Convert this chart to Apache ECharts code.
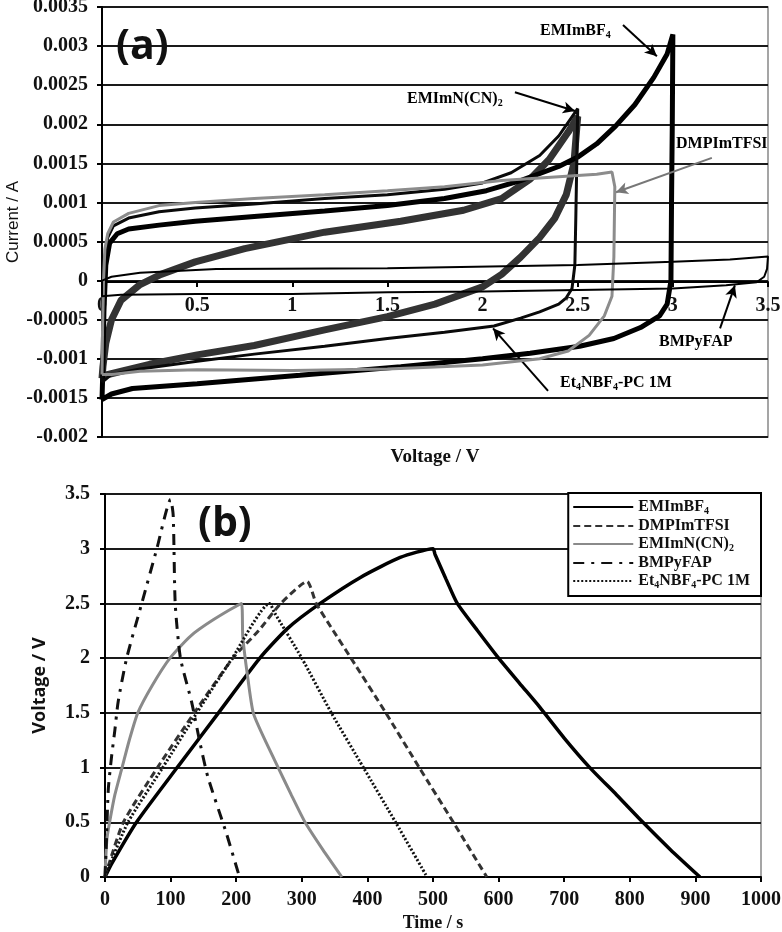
<!DOCTYPE html>
<html><head><meta charset="utf-8">
<script src="https://cdn.jsdelivr.net/npm/echarts@6/dist/echarts.min.js"></script>
<style>html,body{margin:0;padding:0;background:#fff}#c{width:782px;height:932px}</style>
</head><body><div id="c"></div>
<script>
// ---------- names ----------
var seriesNames = ['EMImBF4', 'DMPImTFSI', 'EMImN(CN)2', 'BMPyFAP', 'Et4NBF4-PC 1M'];

// ---------- tick labels ----------
var cvVoltageTicks = ['0', '0.5', '1', '1.5', '2', '2.5', '3', '3.5'];
var cvCurrentTicks = ['-0.002', '-0.0015', '-0.001', '-0.0005', '0', '0.0005', '0.001', '0.0015', '0.002', '0.0025', '0.003', '0.0035'];
var gcdTimeTicks = ['0', '100', '200', '300', '400', '500', '600', '700', '800', '900', '1000'];
var gcdVoltageTicks = ['0', '0.5', '1', '1.5', '2', '2.5', '3', '3.5'];

// ---------- (a) cyclic voltammetry: [voltage V, current A] ----------
var cvEMImBF4 = [[0,-0.00152],[0.005,-0.0011],[0.01,-0.0004],[0.02,0.0002],[0.04,0.00048],[0.08,0.0006],[0.14,0.00066],[0.3,0.00071],[0.49,0.00076],[0.8,0.00082],[1.17,0.00089],[1.5,0.00096],[1.8,0.00105],[2.02,0.00115],[2.2,0.00128],[2.4,0.00146],[2.5,0.00158],[2.6,0.00175],[2.7,0.00198],[2.8,0.00225],[2.9,0.0026],[2.97,0.0029],[3.0,0.00315],
  [2.997,0.002],[2.993,0.001],[2.99,0.0],[2.97,-0.0003],[2.93,-0.00045],[2.83,-0.0006],[2.69,-0.00074],[2.51,-0.00084],[2.25,-0.00093],[2.0,-0.001],[1.57,-0.0011],[1.04,-0.00121],[0.5,-0.00132],[0.16,-0.00138],[0.05,-0.00145],[0,-0.00152]];
var cvDMPImTFSI = [[0,-0.0012],[0.003,-0.0006],[0.008,0],[0.015,0.0004],[0.03,0.0006],[0.06,0.00075],[0.14,0.00086],[0.3,0.00096],[0.49,0.001],[0.8,0.00105],[1.17,0.0011],[1.5,0.00115],[1.8,0.0012],[2.1,0.00128],[2.4,0.00133],[2.6,0.00136],[2.68,0.00139],
  [2.695,0.0012],[2.69,0.0003],[2.68,-0.0002],[2.64,-0.00045],[2.56,-0.0007],[2.45,-0.0009],[2.3,-0.001],[2.0,-0.00108],[1.5,-0.00113],[1.0,-0.00115],[0.5,-0.00114],[0.2,-0.00116],[0.05,-0.0012],[0,-0.0012]];
var cvEMImNCN2 = [[0,-0.00125],[0.005,-0.0011],[0.02,-0.0008],[0.05,-0.0005],[0.1,-0.00025],[0.2,-0.00005],[0.31,0.00008],[0.49,0.00024],[0.75,0.00041],[1.17,0.00062],[1.57,0.00076],[1.9,0.0009],[2.1,0.00105],[2.25,0.0013],[2.35,0.00155],[2.45,0.0019],[2.5,0.0021],
  [2.48,0.0015],[2.44,0.0011],[2.38,0.0008],[2.3,0.00055],[2.2,0.0003],[2.1,0.00008],[2.0,-0.00008],[1.75,-0.0003],[1.5,-0.00046],[1.17,-0.00063],[0.8,-0.00083],[0.5,-0.00095],[0.25,-0.00107],[0,-0.00122]];
var cvBMPyFAP = [[0,0],[0.05,0.00005],[0.2,0.0001],[0.6,0.00015],[1.5,0.00016],[2.5,0.0002],[3.0,0.00024],[3.3,0.00027],[3.5,0.00031],
  [3.495,0.00015],[3.48,0.00005],[3.44,-0.00002],[3.28,-0.00006],[3.0,-0.0001],[2.5,-0.00012],[2.0,-0.00014],[1.5,-0.00015],[1.0,-0.00017],[0.5,-0.00017],[0.1,-0.00018],[0,-0.0002],[0,0]];
var cvEt4NBF4PC = [[0,-0.0013],[0.003,-0.0008],[0.008,-0.0002],[0.015,0.0003],[0.03,0.00055],[0.06,0.0007],[0.14,0.0008],[0.3,0.00088],[0.49,0.00093],[0.8,0.00098],[1.17,0.00105],[1.5,0.0011],[1.8,0.00117],[2.0,0.00125],[2.15,0.00138],[2.3,0.0016],[2.4,0.00185],[2.5,0.0022],
  [2.495,0.0015],[2.49,0.0008],[2.485,0.0002],[2.47,-0.0001],[2.44,-0.00022],[2.4,-0.0003],[2.3,-0.0004],[2.2,-0.00048],[2.06,-0.00058],[1.8,-0.00066],[1.5,-0.00074],[1.17,-0.00084],[0.8,-0.00094],[0.5,-0.00103],[0.2,-0.00113],[0.05,-0.0012],[0,-0.0013]];

// ---------- (b) galvanostatic charge/discharge: [time s, voltage V] ----------
var gcdEMImBF4 = [[0,0],[10,0.12],[48,0.5],[110,1.0],[173,1.5],[236,2.0],[278,2.27],[328,2.5],[390,2.74],[450,2.92],[500,3.0],
  [503,2.95],[520,2.72],[537,2.5],[568,2.25],[600,2.0],[632,1.77],[663,1.55],[700,1.27],[739,1.0],[780,0.75],[820,0.5],[862,0.25],[907,0]];
var gcdDMPImTFSI = [[0,0],[5,0.1],[28,0.5],[80,1.0],[136,1.5],[195,2.0],[234,2.25],[268,2.5],[308,2.7],
  [322,2.5],[348,2.25],[375,2.0],[428,1.5],[479,1.0],[531,0.5],[582,0]];
var gcdEMImNCN2 = [[0,0],[1,0.15],[3,0.35],[7,0.5],[15,0.75],[26,1.0],[37,1.25],[50,1.5],[72,1.75],[99,2.0],[130,2.2],[165,2.35],[208,2.5],
  [210,2.2],[217,1.85],[226,1.5],[244,1.25],[264,1.0],[284,0.75],[305,0.5],[332,0.25],[361,0]];
var gcdBMPyFAP = [[0,0],[2,0.3],[5,0.8],[10,1.1],[15,1.34],[20,1.6],[33,2.0],[56,2.5],[79,3.0],[100,3.45],
  [104,3.3],[107,2.5],[115,2.0],[132,1.6],[145,1.22],[157,0.91],[185,0.4],[205,0]];
var gcdEt4NBF4PC = [[0,0],[5,0.08],[35,0.5],[88,1.0],[140,1.5],[194,2.0],[251,2.5],
  [258,2.42],[300,2.0],[345,1.5],[394,1.0],[443,0.5],[491,0]];

// ---------- annotations for (a): arrows in data coordinates ----------
var arrowsA = [
  {from:[2.738,0.00327], to:[2.916,0.00287], color:'#000'},
  {from:[2.17,0.00241], to:[2.486,0.00217], color:'#000'},
  {from:[3.205,0.00157], to:[2.701,0.00113], color:'#777'},
  {from:[3.248,-0.00061], to:[3.326,-0.00006], color:'#000'},
  {from:[2.344,-0.00141], to:[2.055,-0.00061], color:'#000'}
];

// ---------- build ----------
var SERIF = '"Liberation Serif", "Times New Roman", serif';
function sub(name) {
  return '{m|' + name.replace(/([A-Za-z)])(\d)/g, '$1}{s|$2}{m|') + '}';
}
function richSet(size) {
  return {
    m: {fontFamily: SERIF, fontWeight: 'bold', fontSize: size, color: '#111', lineHeight: 18},
    s: {fontFamily: SERIF, fontWeight: 'bold', fontSize: Math.round(size * 0.65), color: '#111', lineHeight: 8, verticalAlign: 'bottom'}
  };
}
function tickFmt(list) {
  return function (v) {
    for (var i = 0; i < list.length; i++) if (Math.abs(parseFloat(list[i]) - v) < 1e-9) return list[i];
    return '';
  };
}
var labelStyle = {fontFamily: SERIF, fontWeight: 'bold', fontSize: 20, color: '#111'};
var gridLine = {show: true, lineStyle: {color: '#1a1a1a', width: 2}};
var tickS = {show: true, length: 5, lineStyle: {color: '#000', width: 2}};

var gcdData = [gcdEMImBF4, gcdDMPImTFSI, gcdEMImNCN2, gcdBMPyFAP, gcdEt4NBF4PC];
var gcdStyles = [
  {color: '#000', width: 3.5, type: 'solid'},
  {color: '#333', width: 3, type: [7, 4]},
  {color: '#8a8a8a', width: 3, type: 'solid'},
  {color: '#111', width: 3, type: [11, 7, 3, 7]},
  {color: '#111', width: 3, type: [2, 2]}
];
var series = [];
seriesNames.forEach(function (n, i) {
  series.push({
    type: 'line', name: n, xAxisIndex: 1, yAxisIndex: 1, data: gcdData[i],
    symbol: 'none', smooth: 0.2, lineStyle: gcdStyles[i], itemStyle: {color: gcdStyles[i].color}, z: 3
  });
});

var cvOrder = [
  {d: cvEMImNCN2, name: 'EMImN(CN)2', style: {color: '#333', width: 7}},
  {d: cvEMImBF4, name: 'EMImBF4', style: {color: '#000', width: 5}},
  {d: cvEt4NBF4PC, name: 'Et4NBF4-PC 1M', style: {color: '#0a0a0a', width: 3}},
  {d: cvDMPImTFSI, name: 'DMPImTFSI', style: {color: '#8c8c8c', width: 3}},
  {d: cvBMPyFAP, name: 'BMPyFAP', style: {color: '#000', width: 2}}
];
cvOrder.forEach(function (c, i) {
  var s = {
    type: 'line', name: c.name + ' (a)', xAxisIndex: 0, yAxisIndex: 0, data: c.d,
    symbol: 'none', lineStyle: c.style, itemStyle: {color: c.style.color}, z: 3 + i
  };
  if (i === cvOrder.length - 1) {
    s.markLine = {
      silent: true, symbol: ['none', 'arrow'], symbolSize: [9, 12], animation: false,
      label: {show: false},
      data: arrowsA.map(function (a) {
        return [{coord: a.from, lineStyle: {color: a.color, width: 2, type: 'solid'}}, {coord: a.to}];
      })
    };
  }
  series.push(s);
});

function annText(txt, x, y) {
  return {type: 'text', x: x, y: y, z: 20, style: {text: sub(txt), rich: richSet(16), verticalAlign: 'middle', align: 'left'}};
}

var option = {
  backgroundColor: '#fff',
  animation: false,
  grid: [
    {left: 102, top: 7, width: 666, height: 430, show: true, borderColor: '#888', borderWidth: 1.5, outerBoundsMode: 'none', containLabel: false},
    {left: 105, top: 494, width: 656, height: 383, show: true, borderColor: '#888', borderWidth: 1.5, outerBoundsMode: 'none', containLabel: false}
  ],
  xAxis: [
    {gridIndex: 0, type: 'value', min: 0, max: 3.5, interval: 0.5, offset: -155,
      axisLine: {onZero: false, lineStyle: {color: '#000', width: 2}}, axisTick: tickS, splitLine: {show: false},
      axisLabel: Object.assign({margin: 14, formatter: tickFmt(cvVoltageTicks)}, labelStyle),
      name: 'Voltage / V', nameLocation: 'middle', nameGap: 166, nameMoveOverlap: false,
      nameTextStyle: {fontFamily: SERIF, fontWeight: 'bold', fontSize: 19, color: '#111'}},
    {gridIndex: 1, type: 'value', min: 0, max: 1000, interval: 100,
      axisLine: {onZero: false, lineStyle: {color: '#000', width: 2}}, axisTick: tickS, splitLine: {show: false},
      axisLabel: Object.assign({margin: 13, formatter: tickFmt(gcdTimeTicks)}, labelStyle),
      name: 'Time / s', nameLocation: 'middle', nameGap: 37,
      nameTextStyle: {fontFamily: SERIF, fontWeight: 'bold', fontSize: 18, color: '#111'}}
  ],
  yAxis: [
    {gridIndex: 0, type: 'value', min: -0.002, max: 0.0035, interval: 0.0005,
      axisLine: {show: true, onZero: false, lineStyle: {color: '#000', width: 2}}, axisTick: tickS, splitLine: gridLine,
      axisLabel: Object.assign({margin: 14, formatter: tickFmt(cvCurrentTicks)}, labelStyle),
      name: 'Current / A', nameLocation: 'middle', nameGap: 80, nameMoveOverlap: false,
      nameTextStyle: {fontFamily: '"Liberation Sans", Arial, sans-serif', fontSize: 17, color: '#111'}},
    {gridIndex: 1, type: 'value', min: 0, max: 3.5, interval: 0.5,
      axisLine: {show: true, onZero: false, lineStyle: {color: '#000', width: 2}}, axisTick: tickS, splitLine: gridLine,
      axisLabel: Object.assign({margin: 15, formatter: tickFmt(gcdVoltageTicks)}, labelStyle),
      name: 'Voltage / V', nameLocation: 'middle', nameGap: 56,
      nameTextStyle: {fontFamily: '"Open Sans", "Liberation Sans", sans-serif', fontWeight: 'bold', fontSize: 18, color: '#111'}}
  ],
  legend: {
    data: seriesNames, orient: 'vertical', right: 21, top: 493,
    itemWidth: 60, itemHeight: 12, itemGap: 2, padding: [6, 11, 6, 4],
    borderColor: '#000', borderWidth: 2, backgroundColor: '#fff',
    selectedMode: false,
    itemStyle: {opacity: 0, borderWidth: 0},
    formatter: function (n) { return sub(n); },
    textStyle: {rich: richSet(16)}
  },
  graphic: [
    {type: 'text', x: 116, y: 47, z: 20, style: {text: '(a)', font: 'bold 41px "Open Sans", sans-serif', fill: '#111', verticalAlign: 'middle'}},
    {type: 'text', x: 198, y: 524, z: 20, style: {text: '(b)', font: 'bold 41px "Open Sans", sans-serif', fill: '#111', verticalAlign: 'middle'}},
    annText('EMImBF4', 540, 31),
    annText('EMImN(CN)2', 407, 99),
    annText('DMPImTFSI', 676, 144),
    annText('BMPyFAP', 659, 342),
    annText('Et4NBF4-PC 1M', 560, 383)
  ],
  series: series
};
var chart = echarts.init(document.getElementById('c'), null, {renderer: 'canvas'});
chart.setOption(option);
</script></body></html>
